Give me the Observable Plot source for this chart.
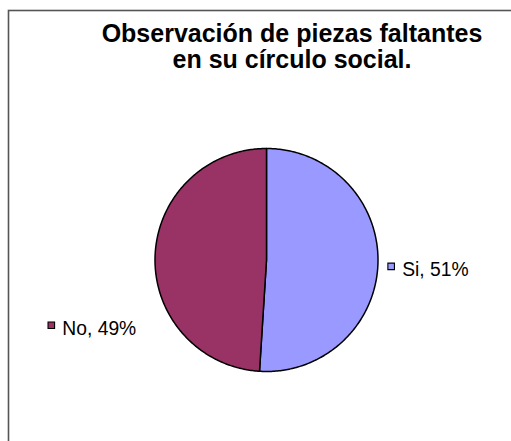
<!DOCTYPE html>
<html><head><meta charset="utf-8">
<script src="https://cdn.jsdelivr.net/npm/d3@7"></script>
<script src="https://cdn.jsdelivr.net/npm/@observablehq/plot@0.6"></script>
<style>html,body{margin:0;padding:0;overflow:hidden;background:#fff}</style>
</head><body><div id="chart"></div>
<script>
const categories = ["Si", "No"];
const values = [51, 49];
const colors = ["#9999FF", "#993366"];
const titleLines = ["Observación de piezas faltantes", "en su círculo social."];

const W = 511, H = 441;
const cx = 266, cy = 259.5, R = 111.5;
// label marker placement in unit-radius coordinates (layout only)
const labelPos = {Si: [1.118, 0.057], No: [-1.93, 0.585]};

const data = categories.map((c, i) => ({category: c, value: values[i], color: colors[i]}));
const arcs = d3.pie().sort(null).value(d => d.value)(data);

const slices = arcs.flatMap((a, i) => {
  const pts = [{k: i, x: 0, y: 0}];
  const n = 240;
  for (let j = 0; j <= n; j++) {
    const t = a.startAngle + (a.endAngle - a.startAngle) * j / n;
    pts.push({k: i, x: Math.sin(t), y: -Math.cos(t)});
  }
  pts.push({k: i, x: 0, y: 0});
  return pts;
});

const labels = arcs.map(a => ({
  category: a.data.category,
  color: a.data.color,
  text: `${a.data.category}, ${Math.round(100 * a.data.value / d3.sum(values))}%`,
  x: labelPos[a.data.category][0],
  y: labelPos[a.data.category][1]
}));

const chart = Plot.plot({
  width: W, height: H,
  margin: 0,
  style: {background: "#fff", fontFamily: "'Liberation Sans', Arial, sans-serif"},
  x: {domain: [-cx / R, (W - cx) / R], range: [0, W], axis: null},
  y: {domain: [-cy / R, (H - cy) / R], range: [0, H], axis: null},
  marks: [
    Plot.frame({stroke: "#555", strokeWidth: 1.6, insetLeft: 8, insetTop: 10, insetRight: -20, insetBottom: -20}),
    Plot.line(slices, {x: "x", y: "y", z: "k", fill: d => colors[d.k], stroke: "#000", strokeWidth: 1.5, strokeLinejoin: "round", curve: "linear"}),
    Plot.dot(labels, {x: "x", y: "y", symbol: "square", r: 3.7, fill: "color", stroke: "#000", strokeWidth: 1.1}),
    Plot.text(labels, {x: "x", y: "y", text: "text", dx: 11, dy: 3.5, textAnchor: "start", fontSize: 19.3, fill: "#000"}),
    Plot.text([titleLines.join("\n")], {frameAnchor: "top", dx: 36, dy: 23, text: d => d, fontSize: 25, fontWeight: "bold", lineHeight: 1.04, lineAnchor: "top", fill: "#000"})
  ]
});
document.getElementById("chart").append(chart);
</script></body></html>
